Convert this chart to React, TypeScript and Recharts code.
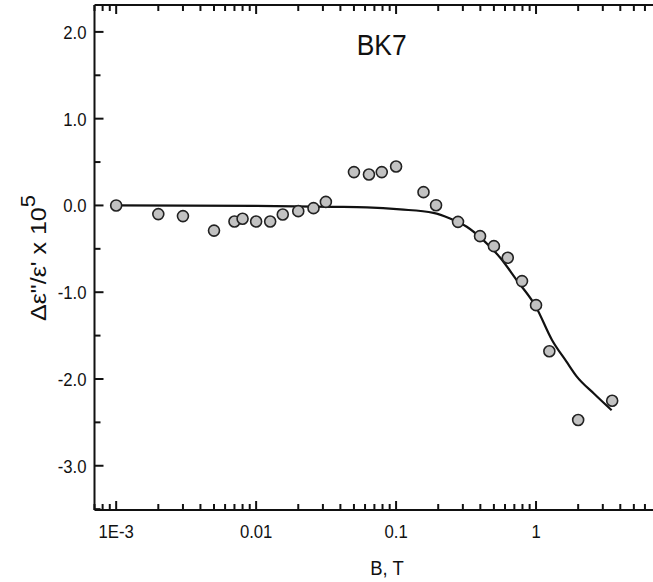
import React from 'react';
import { ComposedChart, XAxis, YAxis, Scatter, Line } from 'recharts';

// Measured points (B in tesla, value in units of 1e-5)
const B_POINTS = [0.001, 0.002, 0.003, 0.005, 0.007, 0.008, 0.01, 0.0126, 0.0155, 0.02, 0.0257, 0.0315, 0.05, 0.064, 0.079, 0.1, 0.157, 0.193, 0.277, 0.398, 0.5, 0.628, 0.794, 1.0, 1.245, 2.0, 3.5];
const V_POINTS = [0.0, -0.1, -0.123, -0.29, -0.185, -0.154, -0.185, -0.185, -0.104, -0.066, -0.031, 0.041, 0.384, 0.357, 0.384, 0.449, 0.153, 0.003, -0.189, -0.354, -0.469, -0.603, -0.872, -1.149, -1.68, -2.473, -2.251];

// Fit curve
const B_FIT = [0.001, 0.01, 0.0356, 0.0618, 0.107, 0.1846, 0.243, 0.32, 0.42, 0.553, 0.727, 1.0, 1.3, 1.65, 1.95, 2.6, 3.47];
const V_FIT = [0, -0.005, -0.016, -0.023, -0.046, -0.085, -0.15, -0.246, -0.4, -0.6, -0.86, -1.17, -1.55, -1.8, -1.97, -2.17, -2.36];

// Axes
const X_DOMAIN = [0.0007, 7.5];
const X_MAJOR = [0.001, 0.01, 0.1, 1];
const X_LABELS = ['1E-3', '0.01', '0.1', '1'];
const X_MINOR_MULT = [2, 3, 4, 5, 6, 7, 8, 9];
const X_DECADES = [0.0001, 0.001, 0.01, 0.1, 1];
const Y_DOMAIN = [-3.51, 2.31];
const Y_MAJOR = [-3, -2, -1, 0, 1, 2];
const Y_LABELS = ['-3.0', '-2.0', '-1.0', '0.0', '1.0', '2.0'];
const Y_MINOR = [-3.5, -2.5, -1.5, -0.5, 0.5, 1.5];
const TITLE = 'BK7';
const X_TITLE = 'B, T';

const points = B_POINTS.map((b, i) => ({ b, v: V_POINTS[i] }));
const fit = B_FIT.map((b, i) => ({ b, v: V_FIT[i] }));

const xTicks: number[] = [];
X_DECADES.forEach((d) => {
  xTicks.push(d);
  X_MINOR_MULT.forEach((m) => xTicks.push(+(d * m).toPrecision(6)));
});
const xTicksIn = xTicks.filter((t) => t >= X_DOMAIN[0] && t <= X_DOMAIN[1]);
const yTicks = [...Y_MAJOR, ...Y_MINOR].sort((a, b) => a - b);

const FONT = '"Liberation Sans", Arial, sans-serif';
const SX = 0.88;
const TICK_W = 2;
const TICK_C = '#111';
const MAJ = 9;
const MIN = 6;

const majorX = (v: number) => X_MAJOR.findIndex((m) => Math.abs(m - v) / m < 1e-6);
const majorY = (v: number) => Y_MAJOR.findIndex((m) => Math.abs(m - v) < 1e-6);

const BottomTick = (props: any) => {
  const { x, y, payload } = props;
  const idx = majorX(payload.value);
  const major = idx >= 0;
  const px = Number(x);
  const py = Number(y);
  return (
    <g>
      <path d={`M${px},${py}V${py - (major ? MAJ : MIN)}`} stroke={TICK_C} strokeWidth={TICK_W} fill="none" />
      {major && (
        <text transform={`translate(${px},${py + 28}) scale(${SX},1)`} textAnchor="middle" fontSize={19} fontFamily={FONT} fill="#111">
          {X_LABELS[idx]}
        </text>
      )}
    </g>
  );
};

const TopTick = (props: any) => {
  const { x, y, payload } = props;
  const major = majorX(payload.value) >= 0;
  const px = Number(x);
  const py = Number(y);
  return <path d={`M${px},${py}V${py + (major ? MAJ : MIN)}`} stroke={TICK_C} strokeWidth={TICK_W} fill="none" />;
};

const LeftTick = (props: any) => {
  const { x, y, payload } = props;
  const idx = majorY(payload.value);
  const major = idx >= 0;
  const px = Number(x);
  const py = Number(y);
  return (
    <g>
      <path d={`M${px},${py}H${px + (major ? MAJ : MIN)}`} stroke={TICK_C} strokeWidth={TICK_W} fill="none" />
      {major && (
        <text transform={`translate(${px - 8},${py + 7}) scale(${SX},1)`} textAnchor="end" fontSize={19} fontFamily={FONT} fill="#111">
          {Y_LABELS[idx]}
        </text>
      )}
    </g>
  );
};

const Dot = (p: any) => <circle cx={p.cx} cy={p.cy} r={5.5} fill="#c2c2c2" stroke="#222" strokeWidth={1.6} />;

export default function App() {
  return (
    <div style={{ position: 'fixed', left: 0, top: 0, width: 653, height: 582, overflow: 'hidden', background: '#fff' }}>
      <ComposedChart width={680} height={582} margin={{ top: 0, right: 21.5, bottom: 0, left: 0 }}>
        <XAxis
          dataKey="b"
          type="number"
          scale="log"
          domain={X_DOMAIN}
          allowDataOverflow
          ticks={xTicksIn}
          interval={0}
          height={72}
          tickSize={0}
          tickMargin={0}
          tickLine={false}
          axisLine={{ stroke: '#111', strokeWidth: 2 }}
          tick={BottomTick}
        />
        <XAxis
          xAxisId="top"
          orientation="top"
          dataKey="b"
          type="number"
          scale="log"
          domain={X_DOMAIN}
          allowDataOverflow
          ticks={xTicksIn}
          interval={0}
          height={5}
          tickSize={0}
          tickMargin={0}
          tickLine={false}
          axisLine={{ stroke: '#111', strokeWidth: 2 }}
          tick={TopTick}
        />
        <YAxis
          dataKey="v"
          type="number"
          domain={Y_DOMAIN}
          allowDataOverflow
          ticks={yTicks}
          interval={0}
          width={94.5}
          tickSize={0}
          tickMargin={0}
          tickLine={false}
          axisLine={{ stroke: '#111', strokeWidth: 2 }}
          tick={LeftTick}
        />
        <Line data={fit} dataKey="v" type="monotone" stroke="#111" strokeWidth={2.2} dot={false} isAnimationActive={false} />
        <Scatter data={points} dataKey="v" shape={Dot} isAnimationActive={false} />
        <text transform={`translate(381.7,54.5) scale(${SX},1)`} textAnchor="middle" fontSize={30} fontFamily={FONT} fill="#111">
          {TITLE}
        </text>
        <text transform={`translate(387,575) scale(${SX},1)`} textAnchor="middle" fontSize={21} fontFamily={FONT} fill="#111">
          {X_TITLE}
        </text>
        <text transform="translate(46,258) rotate(-90) scale(1,0.88)" textAnchor="middle" fontSize={25} fontFamily={FONT} fill="#111">
          {'Δε"/ε\' x 10'}
          <tspan dy={-12} fontSize={22}>5</tspan>
        </text>
      </ComposedChart>
    </div>
  );
}
